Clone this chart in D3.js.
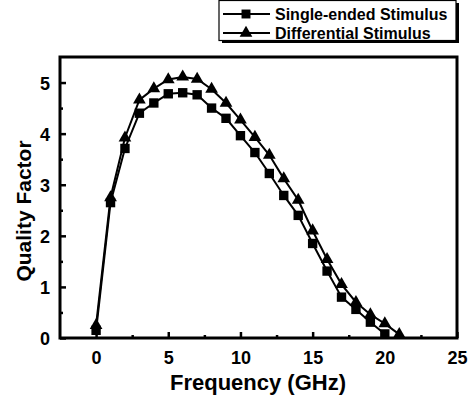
<!DOCTYPE html>
<html lang="en">
<head>
  <meta charset="UTF-8">
  <title>Quality Factor vs Frequency</title>
  <script src="https://d3js.org/d3.v7.min.js"></script>
  <style>
    body { margin: 0; background: #fff; font-family: "Liberation Sans", Arial, sans-serif; }
    .tick text { font-weight: bold; font-size: 18px; fill: #000; font-family: "Liberation Sans", Arial, sans-serif; }
    .axis-title { font-weight: bold; fill: #000; }
    .legend text { font-weight: bold; font-size: 16px; fill: #000; }
  </style>
</head>
<body>
  <div id="chart"></div>
  <script>
    const freq = d3.range(0, 22);
    const singleEnded = [0.15, 2.65, 3.71, 4.4, 4.6, 4.78, 4.8, 4.76, 4.5, 4.3, 3.96, 3.63, 3.22, 2.79, 2.4, 1.85, 1.31, 0.8, 0.56, 0.31, 0.08];
    const differential = [0.25, 2.75, 3.92, 4.66, 4.88, 5.06, 5.11, 5.07, 4.87, 4.6, 4.27, 3.93, 3.58, 3.12, 2.7, 2.1, 1.54, 1.05, 0.7, 0.46, 0.28, 0.07];
    const xTicks = [0, 5, 10, 15, 20, 25];
    const yTicks = [0, 1, 2, 3, 4, 5];
    const legendLabels = ["Single-ended Stimulus", "Differential Stimulus"];

    const W = 468, H = 404;
    const margin = {top: 57, right: 11, bottom: 66, left: 60};
    const width = W - margin.left - margin.right,
      height = H - margin.top - margin.bottom;

    const svg = d3.select("#chart").append("svg")
      .attr("width", W).attr("height", H);
    const g = svg.append("g")
      .attr("transform", "translate(" + margin.left + "," + margin.top + ")");

    const x = d3.scaleLinear().domain([-2.5, 25]).range([0, width]);
    const y = d3.scaleLinear().domain([0, 5.5]).range([height, 0]);

    // minor ticks
    g.append("g")
      .attr("transform", "translate(0," + height + ")")
      .call(d3.axisBottom(x).tickValues(d3.range(2.5, 25, 5)).tickSize(-3).tickFormat(""))
      .call(a => a.select(".domain").remove())
      .selectAll("line").attr("stroke-width", 2.5);
    g.append("g")
      .call(d3.axisLeft(y).tickValues(d3.range(0.5, 5.5, 1)).tickSize(-3).tickFormat(""))
      .call(a => a.select(".domain").remove())
      .selectAll("line").attr("stroke-width", 2.5);

    // major ticks
    const xAxis = g.append("g")
      .attr("transform", "translate(0," + height + ")")
      .call(d3.axisBottom(x).tickValues(xTicks).tickSize(-6).tickPadding(13).tickFormat(d3.format("d")));
    xAxis.select(".domain").remove();
    xAxis.selectAll("line").attr("stroke-width", 2.5);

    const yAxis = g.append("g")
      .call(d3.axisLeft(y).tickValues(yTicks).tickSize(-6).tickPadding(10).tickFormat(d3.format("d")));
    yAxis.select(".domain").remove();
    yAxis.selectAll("line").attr("stroke-width", 2.5);
    yAxis.selectAll("text").attr("dy", "0.36em");

    // frame
    g.append("rect")
      .attr("width", width).attr("height", height)
      .attr("fill", "none").attr("stroke", "#000").attr("stroke-width", 3);

    const line = d3.line().x((d, i) => x(freq[i])).y(d => y(d));

    function drawSeries(vals, symbol, size) {
      g.append("path").datum(vals)
        .attr("d", line)
        .attr("fill", "none").attr("stroke", "#000").attr("stroke-width", 2);
      g.selectAll(null).data(vals).enter().append("path")
        .attr("transform", (d, i) => "translate(" + x(freq[i]) + "," + y(d) + ")")
        .attr("d", d3.symbol().type(symbol).size(size))
        .attr("fill", "#000");
    }
    drawSeries(singleEnded, d3.symbolSquare, 88);
    drawSeries(differential, d3.symbolTriangle, 70);

    // axis titles
    svg.append("text").attr("class", "axis-title")
      .attr("text-anchor", "middle")
      .style("font-size", "22px")
      .attr("x", 258).attr("y", 390)
      .text("Frequency (GHz)");
    svg.append("text").attr("class", "axis-title")
      .attr("text-anchor", "middle")
      .style("font-size", "21px")
      .attr("transform", "translate(31,211) rotate(-90)")
      .text("Quality Factor");

    // legend
    const leg = svg.append("g").attr("class", "legend");
    leg.append("rect").attr("x", 222).attr("y", 3).attr("width", 237).attr("height", 40).attr("fill", "#000");
    leg.append("rect").attr("x", 219).attr("y", 0.5).attr("width", 237).attr("height", 40)
      .attr("fill", "#fff").attr("stroke", "#000").attr("stroke-width", 1.2);
    const symbols = [d3.symbolSquare, d3.symbolTriangle];
    legendLabels.forEach((lab, i) => {
      const ly = 14 + i * 19;
      leg.append("line").attr("x1", 223).attr("x2", 270).attr("y1", ly).attr("y2", ly)
        .attr("stroke", "#000").attr("stroke-width", 2);
      leg.append("path").attr("transform", "translate(246," + ly + ")")
        .attr("d", d3.symbol().type(symbols[i]).size(i ? 70 : 80));
      leg.append("text").attr("x", 275).attr("y", ly + 6).text(lab);
    });
  </script>
</body>
</html>
